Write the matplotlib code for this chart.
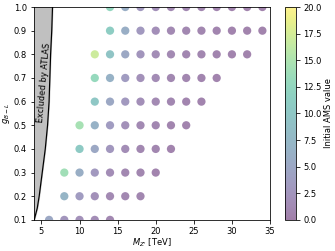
import numpy as np
import matplotlib.pyplot as plt

# grid points: (g_BL, list of M_Z' values, initial AMS values)
g_rows = [0.1, 0.2, 0.3, 0.4, 0.5, 0.6, 0.7, 0.8, 0.9, 1.0]
m_start = [6, 8, 8, 10, 10, 12, 12, 12, 14, 14]
m_stop = [14, 18, 20, 22, 24, 26, 28, 32, 34, 34]
ams_rows = [
    [5.0, 2.5, 2.0, 1.5, 1.0],
    [7.0, 3.5, 2.0, 1.2, 1.0, 0.8],
    [14.0, 6.0, 3.0, 1.5, 1.0, 0.8, 0.6],
    [10.5, 5.0, 2.8, 1.5, 1.0, 0.8, 0.6],
    [14.5, 6.5, 3.5, 2.0, 1.2, 0.9, 0.7, 0.6, 0.5],
    [10.0, 5.0, 3.0, 1.8, 1.2, 0.9, 0.7, 0.6],
    [13.0, 6.5, 3.5, 2.0, 1.4, 1.0, 0.8, 0.7, 0.6],
    [17.0, 9.5, 5.0, 2.5, 1.5, 1.1, 0.9, 0.8, 0.7, 0.6, 0.5],
    [11.0, 6.0, 3.0, 1.8, 1.2, 1.0, 0.8, 0.7, 0.6, 0.5, 0.5],
    [12.5, 6.0, 3.0, 1.8, 1.2, 1.0, 0.8, 0.7, 0.6, 0.5, 0.5],
]

# ATLAS exclusion boundary
excl_g = [0.1, 0.15, 0.2, 0.3, 0.4, 0.5, 0.6, 0.7, 0.8, 0.9, 1.0]
excl_m = [4.05, 4.45, 4.7, 5.1, 5.5, 5.8, 6.0, 6.1, 6.2, 6.35, 6.45]

M = []
G = []
A = []
for g, m0, m1, vals in zip(g_rows, m_start, m_stop, ams_rows):
    ms = np.arange(m0, m1 + 1, 2)
    for m, a in zip(ms, vals):
        M.append(m)
        G.append(g)
        A.append(a)

plt.rcParams['font.size'] = 8.4

fig = plt.figure(figsize=(335 / 72, 251 / 72), dpi=72)
ax = fig.add_axes([0.101, 0.124, 0.705, 0.848])
cax = fig.add_axes([0.851, 0.124, 0.034, 0.848])

sc = ax.scatter(M, G, c=A, cmap='viridis', vmin=0, vmax=20, s=68, alpha=0.5, linewidths=0)
ax.fill_betweenx(excl_g, 4, excl_m, color='silver')
ax.plot(excl_m, excl_g, color='black', lw=1.2)
ax.text(5.3, 0.68, "Excluded by ATLAS", rotation=85, ha='center', va='center')

ax.set_xlim(4, 35)
ax.set_ylim(0.1, 1.0)
ax.set_xlabel("$M_{Z'}$ [TeV]", labelpad=1)
ax.set_ylabel("$g_{B-L}$", labelpad=2)

cb = fig.colorbar(sc, cax=cax)
cb.set_label("Initial AMS value", labelpad=2)
cb.set_ticks(np.arange(0, 20.1, 2.5))

fig.savefig("out.png")
